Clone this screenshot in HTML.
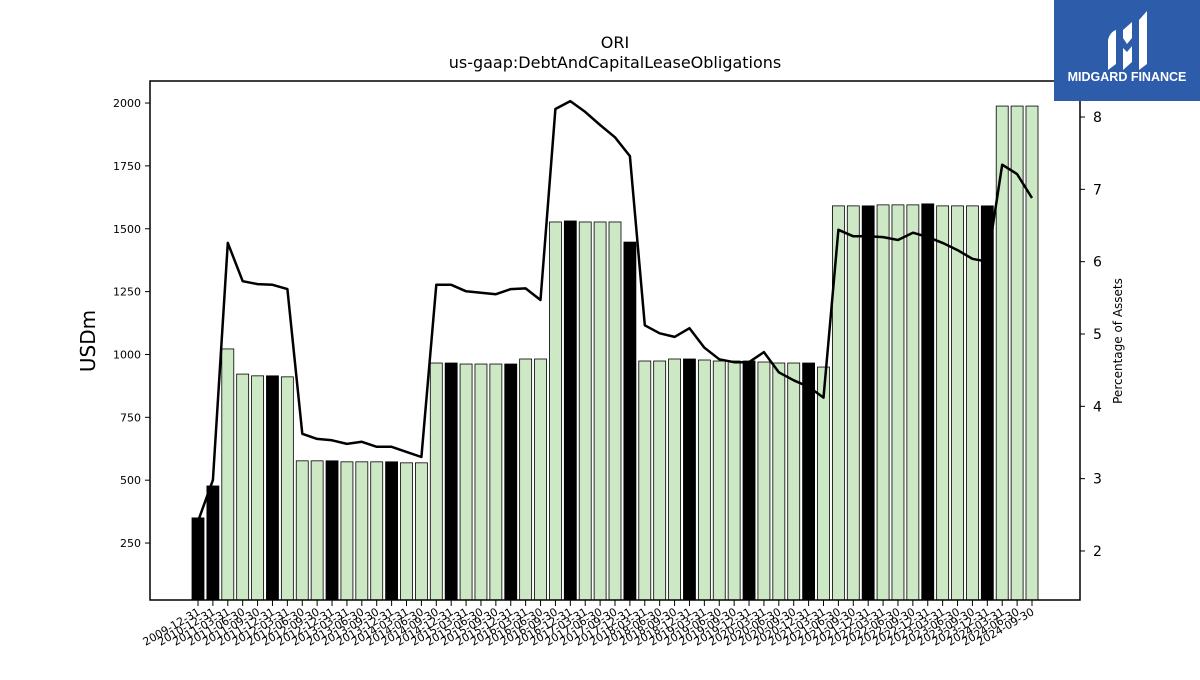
<!DOCTYPE html>
<html><head><meta charset="utf-8"><style>
body{margin:0;background:#fff;font-family:"Liberation Sans","DejaVu Sans",sans-serif;}
svg text{font-family:"DejaVu Sans","Liberation Sans",sans-serif;}
</style></head><body>
<svg id="chart" width="1200" height="675" xmlns="http://www.w3.org/2000/svg">
<rect width="1200" height="675" fill="#fff"/>
<text x="615" y="48" text-anchor="middle" font-size="16">ORI</text>
<text x="615" y="68" text-anchor="middle" font-size="16">us-gaap:DebtAndCapitalLeaseObligations</text>
<g id="bars"></g>
<g id="line"></g>
<g id="axes"></g>
<rect x="150" y="81" width="930" height="519" fill="none" stroke="#000" stroke-width="1.5"/>
<text transform="translate(95,341) rotate(-90)" text-anchor="middle" font-size="20">USDm</text>
<text transform="translate(1122,341) rotate(-90)" text-anchor="middle" font-size="12">Percentage of Assets</text>
<g>
<rect x="1054" y="0" width="146" height="101" fill="#2d5cab"/>
<path d="M1108 40 Q1110 32 1116 30 L1116 64 L1108 70 Z" fill="#fff"/>
<path d="M1123 30 L1132 22 L1132 38 L1127 44 L1123 38 Z M1123 48 L1127 52 L1132 46 L1132 62 L1123 70 Z" fill="#fff"/>
<path d="M1139 20 L1147 11 L1147 64 L1139 70 Z" fill="#fff"/>
<text x="1127" y="81" text-anchor="middle" font-size="12.5" font-weight="bold" fill="#fff" style="font-family:'Liberation Sans',sans-serif">MIDGARD FINANCE</text>
</g>
</svg>
<script>
const dates = ["2009-12-31","2010-12-31","2011-03-31","2011-06-30","2011-09-30","2011-12-31","2012-03-31","2012-06-30","2012-09-30","2012-12-31","2013-03-31","2013-06-30","2013-09-30","2013-12-31","2014-03-31","2014-06-30","2014-09-30","2014-12-31","2015-03-31","2015-06-30","2015-09-30","2015-12-31","2016-03-31","2016-06-30","2016-09-30","2016-12-31","2017-03-31","2017-06-30","2017-09-30","2017-12-31","2018-03-31","2018-06-30","2018-09-30","2018-12-31","2019-03-31","2019-06-30","2019-09-30","2019-12-31","2020-03-31","2020-06-30","2020-09-30","2020-12-31","2021-03-31","2021-06-30","2021-09-30","2021-12-31","2022-03-31","2022-06-30","2022-09-30","2022-12-31","2023-03-31","2023-06-30","2023-09-30","2023-12-31","2024-03-31","2024-06-30","2024-09-30"];
const debtValues = [350,477,1022,922,915,915,911,577,577,577,573,573,573,573,569,569,966,966,962,962,962,962,982,982,1527,1531,1527,1527,1527,1447,974,974,982,982,978,974,974,974,970,966,966,966,950,1591,1591,1591,1595,1595,1595,1599,1591,1591,1591,1591,1988,1988,1988];
const pctValues = [2.41,2.98,6.26,5.73,5.69,5.68,5.62,3.62,3.55,3.53,3.48,3.51,3.44,3.44,3.37,3.30,5.68,5.68,5.59,5.57,5.55,5.62,5.63,5.47,8.11,8.22,8.07,7.89,7.72,7.46,5.12,5.01,4.96,5.08,4.81,4.65,4.61,4.61,4.75,4.47,4.36,4.27,4.12,6.44,6.35,6.35,6.34,6.30,6.40,6.34,6.26,6.16,6.04,6.00,7.34,7.21,6.88];
const leftTicks = [250,500,750,1000,1250,1500,1750,2000];
const rightTicks = [2,3,4,5,6,7,8];

const NS="http://www.w3.org/2000/svg";
const X0=198, STEP=(1032-198)/56, BW=12;
const xs = i => X0 + i*STEP;
const yL = v => 605.9 - v*0.25143;
const yR = v => 117 + (8 - v)*72.33;
function mk(tag, attrs, parent){const e=document.createElementNS(NS,tag);for(const k in attrs)e.setAttribute(k,attrs[k]);parent.appendChild(e);return e;}
const gb=document.getElementById('bars'), gl=document.getElementById('line'), ga=document.getElementById('axes');
debtValues.forEach((v,i)=>{
  const black = dates[i].endsWith("12-31");
  const r=mk('rect',{x:xs(i)-BW/2,y:yL(v),width:BW,height:600-yL(v),fill:black?'#000':'#cde8c4',stroke:'#000','stroke-width':0.8},gb);
  
  
});
const pts=pctValues.map((v,i)=>xs(i).toFixed(1)+','+yR(v).toFixed(1)).join(' ');
const pl=mk('polyline',{points:pts,fill:'none',stroke:'#000','stroke-width':2.5,'stroke-linejoin':'round'},gl);


leftTicks.forEach(t=>{
  const y=yL(t);
  mk('line',{x1:145,x2:150,y1:y,y2:y,stroke:'#000'},ga);
  const tx=mk('text',{x:141,y:y+4,'text-anchor':'end','font-size':11},ga);
  tx.textContent=t;
  
  
});
rightTicks.forEach(t=>{
  const y=yR(t);
  mk('line',{x1:1080,x2:1085,y1:y,y2:y,stroke:'#000'},ga);
  const tx=mk('text',{x:1093,y:y+5,'font-size':14},ga);
  tx.textContent=t;
  
  
});
dates.forEach((d,i)=>{
  const x=xs(i);
  mk('line',{x1:x,x2:x,y1:600,y2:606,stroke:'#000'},ga);
  const tx=mk('text',{x:x+3,y:614,'text-anchor':'end','font-size':11,transform:`rotate(-30 ${x+3} 614)`},ga);
  tx.textContent=d;
  
  
});
</script>
</body></html>
